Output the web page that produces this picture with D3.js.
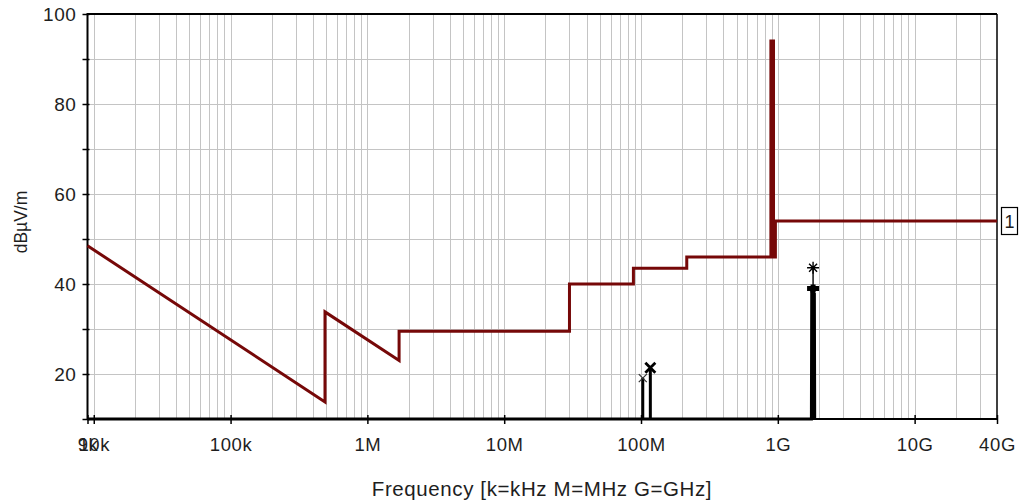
<!DOCTYPE html>
<html>
<head>
<meta charset="utf-8">
<script src="https://cdn.jsdelivr.net/npm/d3@7"></script>
<style>
  html, body { margin: 0; padding: 0; background: #ffffff; }
  svg { display: block; }
  text { font-family: "Liberation Sans", Arial, sans-serif; fill: #1e1e1e; }
</style>
</head>
<body>
<svg id="chart" width="1021" height="502"></svg>
<script>
// Limit line (dBµV/m versus frequency in Hz)
const limitFreq  = [9e3, 490e3, 490e3, 1.705e6, 1.705e6, 30e6, 30e6, 88e6, 88e6, 216e6, 216e6,
                    890e6, 890e6, 930e6, 930e6, 960e6, 960e6, 40e9];
const limitLevel = [48.5, 13.8, 33.8, 23.0, 29.5, 29.5, 40.0, 40.0, 43.5, 43.5, 46.0,
                    46.0, 94.0, 94.0, 46.0, 46.0, 54.0, 54.0];
const limitLabel = "1";

// Measured trace
const traceFreq  = [9e3, 103e6, 103e6, 103e6, 117e6, 117e6, 117e6,
                    1.76e9, 1.77e9, 1.78e9, 1.79e9, 1.80e9, 1.81e9, 1.82e9, 1.83e9, 1.84e9, 1.85e9, 1.86e9];
const traceLevel = [10, 10, 19.1, 10, 10, 21.3, 10,
                    10, 39, 12, 39, 14, 39, 12, 39, 10, 38, 10];

// Peak markers
const markerFreq  = [103e6, 117e6, 1.81e9, 1.81e9];
const markerLevel = [19.1, 21.4, 43.6, 39.0];
const markerShape = ["xThin", "xBold", "star", "blob"];

// Axis ticks
const xTickValues = [9e3, 1e4, 1e5, 1e6, 1e7, 1e8, 1e9, 1e10, 4e10];
const xTickLabels = ["9k", "10k", "100k", "1M", "10M", "100M", "1G", "10G", "40G"];
const yTickValues = [20, 40, 60, 80, 100];
const yMinorValues = [10, 30, 50, 70, 90];

const xTitle = "Frequency [k=kHz M=MHz G=GHz]";
const yTitle = "dBµV/m";

const svg = d3.select("#chart");
const plotL = 87.5, plotR = 997, plotT = 14, plotB = 419;

const x = d3.scaleLog().domain([9e3, 40e9]).range([plotL, plotR]);
const y = d3.scaleLinear().domain([10, 100]).range([plotB, plotT]);

// Grid
const grid = svg.append("g").attr("stroke", "#c4c4c4").attr("stroke-width", 1);
const gridFreqs = x.ticks().filter(f => f > 9e3 && f < 40e9);
grid.selectAll("line.v").data(gridFreqs).join("line")
  .attr("x1", d => Math.round(x(d)) + 0.5).attr("x2", d => Math.round(x(d)) + 0.5)
  .attr("y1", plotT).attr("y2", plotB);
grid.selectAll("line.h").data(d3.range(20, 100, 10)).join("line")
  .attr("x1", plotL).attr("x2", plotR)
  .attr("y1", d => Math.round(y(d)) + 0.5).attr("y2", d => Math.round(y(d)) + 0.5);

// Frame
const frame = svg.append("g").attr("stroke", "#000").attr("fill", "none");
frame.append("line").attr("x1", plotL).attr("x2", plotR).attr("y1", plotT).attr("y2", plotT).attr("stroke-width", 2);
frame.append("line").attr("x1", plotR).attr("x2", plotR).attr("y1", plotT).attr("y2", plotB).attr("stroke-width", 1.5);

// X axis
const xAxis = d3.axisBottom(x)
  .tickValues(xTickValues)
  .tickFormat((d, i) => xTickLabels[i])
  .tickSize(5)
  .tickPadding(14);
const gx = svg.append("g").attr("transform", `translate(0,${plotB})`).call(xAxis);
gx.select(".domain").remove();
gx.selectAll(".tick line").attr("stroke", "#000").attr("stroke-width", 1.5).attr("y1", -4);
gx.selectAll(".tick text").attr("font-size", 18.5).attr("font-family", "Liberation Sans, Arial, sans-serif")
  .attr("fill", "#1e1e1e").attr("letter-spacing", 0.6);
svg.append("line").attr("x1", plotL).attr("x2", plotR).attr("y1", plotB).attr("y2", plotB)
  .attr("stroke", "#000").attr("stroke-width", 2);

// Y axis
const yAxis = d3.axisLeft(y)
  .tickValues(yTickValues.concat(yMinorValues))
  .tickFormat(d => yTickValues.includes(d) ? d : "")
  .tickSize(5)
  .tickPadding(6);
const gy = svg.append("g").attr("transform", `translate(${plotL},0)`).call(yAxis);
gy.select(".domain").remove();
gy.selectAll(".tick line").attr("stroke", "#000").attr("stroke-width", 1.5).attr("x2", -5).attr("x1", 2);
gy.selectAll(".tick text").attr("font-size", 19).attr("font-family", "Liberation Sans, Arial, sans-serif")
  .attr("fill", "#1e1e1e").attr("letter-spacing", 0.6);
svg.append("line").attr("x1", plotL).attr("x2", plotL).attr("y1", plotT - 1).attr("y2", plotB + 1)
  .attr("stroke", "#000").attr("stroke-width", 2);

// Limit line
const line = d3.line().x(d => x(d[0])).y(d => y(d[1]));
svg.append("path")
  .datum(d3.zip(limitFreq, limitLevel))
  .attr("d", line)
  .attr("fill", "none").attr("stroke", "#760808").attr("stroke-width", 3)
  .attr("stroke-linejoin", "miter");

// Measured trace
svg.append("path")
  .datum(d3.zip(traceFreq, traceLevel))
  .attr("d", line)
  .attr("fill", "none").attr("stroke", "#000").attr("stroke-width", 3);

// Markers
const mk = svg.append("g").attr("fill", "none");
d3.zip(markerFreq, markerLevel, markerShape).forEach(([f, v, s]) => {
  const cx = x(f), cy = y(v);
  const g = mk.append("g").attr("transform", `translate(${cx},${cy})`);
  if (s === "xThin") {
    g.append("path").attr("d", "M-4,-4L4,4M-4,4L4,-4").attr("stroke", "#333").attr("stroke-width", 1.2);
  } else if (s === "xBold") {
    g.append("path").attr("d", "M-5,-5L5,5M-5,5L5,-5").attr("stroke", "#000").attr("stroke-width", 2.8);
  } else if (s === "star") {
    g.append("path").attr("d", "M-6,0L6,0M0,-6L0,6M-4,-4L4,4M-4,4L4,-4").attr("stroke", "#000").attr("stroke-width", 1.4);
    g.append("line").attr("x1", 0).attr("x2", 0).attr("y1", 0).attr("y2", y(39) - cy)
      .attr("stroke", "#000").attr("stroke-width", 1.4);
  } else {
    g.append("path").attr("d", "M-6,0L6,0M0,-4L0,4").attr("stroke", "#000").attr("stroke-width", 5);
  }
});

// Limit label box
const ly = y(limitLevel[limitLevel.length - 1]);
svg.append("rect").attr("x", 1001.5).attr("y", ly - 13.5).attr("width", 16).attr("height", 27)
  .attr("fill", "#fff").attr("stroke", "#000").attr("stroke-width", 1.2);
svg.append("text").attr("x", 1009.5).attr("y", ly + 6.5).attr("text-anchor", "middle")
  .attr("font-size", 18).text(limitLabel);

// Titles
svg.append("text").attr("x", 542).attr("y", 496).attr("text-anchor", "middle")
  .attr("font-size", 20.5).attr("letter-spacing", 0.6).text(xTitle);
svg.append("text").attr("transform", `translate(27,222) rotate(-90)`).attr("text-anchor", "middle")
  .attr("font-size", 17.5).text(yTitle);
</script>
</body>
</html>
